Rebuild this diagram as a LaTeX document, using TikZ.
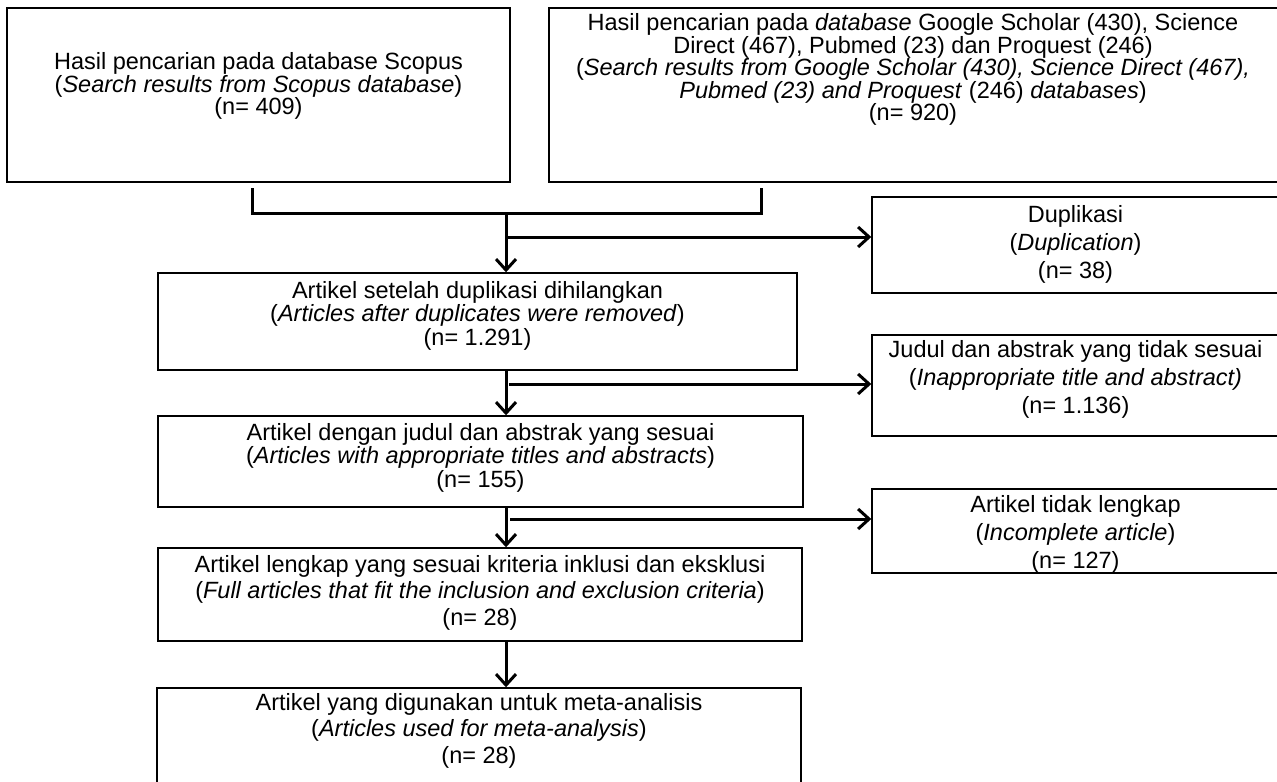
\documentclass[tikz,border=0pt]{standalone}
\usepackage{fontspec}
\setmainfont{Liberation Sans}
\usetikzlibrary{arrows.meta}
\newcommand\txtlines[2]{\vtop{\baselineskip=#1\lineskiplimit=-100pt\lineskip=0pt\halign{\hfil##\hfil\cr#2\crcr}}}
\begin{document}
\begin{tikzpicture}[x=1bp,y=-1bp,
  boxnode/.style={draw=black,line width=1.4bp,rectangle,inner sep=0pt},
  txt/.style={inner sep=0pt,anchor=base,font=\fontsize{23.5bp}{22.5bp}\selectfont},
  conn/.style={line width=3bp},
  arr/.style={line width=3bp,-{Straight Barb[length=11bp,width=20bp,line width=3bp]}}]
\useasboundingbox (0,0) rectangle (1277,782);
\fill[white] (0,0) rectangle (1277,782);
% boxes
\node[boxnode,minimum width=503bp,minimum height=174bp] (b1) at (258.5,95) {};
\node[boxnode,minimum width=732bp,minimum height=174bp] (b2) at (915,95) {};
\node[boxnode,minimum width=409bp,minimum height=96bp] (dup) at (1076.5,245) {};
\node[boxnode,minimum width=639bp,minimum height=97bp] (b3) at (477.5,321.5) {};
\node[boxnode,minimum width=409bp,minimum height=101bp] (jud) at (1076.5,385.5) {};
\node[boxnode,minimum width=645bp,minimum height=91bp] (b4) at (480.5,461.5) {};
\node[boxnode,minimum width=409bp,minimum height=84bp] (tid) at (1076.5,531) {};
\node[boxnode,minimum width=644bp,minimum height=93bp] (b5) at (480,594.5) {};
\node[boxnode,minimum width=644bp,minimum height=97bp] (b6) at (479,736.5) {};
% texts
\node[txt] (t1) at (258.5,70) {\txtlines{22.5bp}{Hasil pencarian pada database Scopus\cr (\textit{Search results from Scopus database})\cr (n= 409)}};
\node[txt] (t2) at (913,31) {\txtlines{22.5bp}{Hasil pencarian pada \textit{database} Google Scholar (430), Science\cr Direct (467), Pubmed (23) dan Proquest (246)\cr (\textit{Search results from Google Scholar (430), Science Direct (467),}\cr \textit{Pubmed (23) and Proquest} (246) \textit{databases})\cr (n= 920)}};
\node[txt] (td) at (1075.5,222) {\txtlines{28bp}{Duplikasi\cr (\textit{Duplication})\cr (n= 38)}};
\node[txt] (t3) at (477.5,298) {\txtlines{23.5bp}{Artikel setelah duplikasi dihilangkan\cr (\textit{Articles after duplicates were removed})\cr (n= 1.291)}};
\node[txt] (tj) at (1075.5,357) {\txtlines{28bp}{Judul dan abstrak yang tidak sesuai\cr (\textit{Inappropriate title and abstract)}\cr (n= 1.136)}};
\node[txt] (t4) at (480.5,440) {\txtlines{23.5bp}{Artikel dengan judul dan abstrak yang sesuai\cr (\textit{Articles with appropriate titles and abstracts})\cr (n= 155)}};
\node[txt] (tt) at (1075.5,512) {\txtlines{28bp}{Artikel tidak lengkap\cr (\textit{Incomplete article})\cr (n= 127)}};
\node[txt] (t5) at (480,572) {\txtlines{26.5bp}{Artikel lengkap yang sesuai kriteria inklusi dan eksklusi\cr (\textit{Full articles that fit the inclusion and exclusion criteria})\cr (n= 28)}};
\node[txt] (t6) at (479,710) {\txtlines{26.5bp}{Artikel yang digunakan untuk meta-analisis\cr (\textit{Articles used for meta-analysis})\cr (n= 28)}};
% connector coordinates
\coordinate (bl) at (252,188);
\coordinate (br) at (761,188);
\coordinate (jn) at (506,213);
\coordinate (s1) at (506,237);
\coordinate (s2) at (509,384);
\coordinate (s3) at (510,519);
\coordinate (v) at (506,0);
% bracket
\draw[conn] (bl) -- (bl |- jn) -- (br |- jn) -- (br);
% main flow
\draw[arr] (jn) -- (jn |- b3.north);
\draw[arr] (s1) -- (s1 -| dup.west);
\draw[arr] (v |- b3.south) -- (v |- b4.north);
\draw[arr] (s2) -- (s2 -| jud.west);
\draw[arr] (v |- b4.south) -- (v |- b5.north);
\draw[arr] (s3) -- (s3 -| tid.west);
\draw[arr] (v |- b5.south) -- (v |- b6.north);
\end{tikzpicture}
\end{document}
